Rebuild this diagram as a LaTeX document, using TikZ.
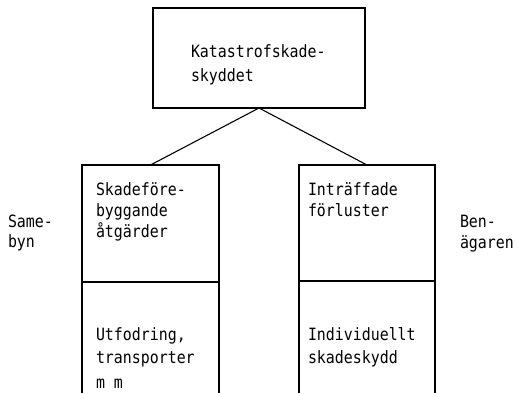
\documentclass[tikz,border=0pt]{standalone}
\usepackage{fontspec}
\newfontfamily\twfont[FakeStretch=0.88]{DejaVu Sans Mono}
\begin{document}
\begin{tikzpicture}[x=1bp,y=-1bp,
  every node/.style={inner sep=0pt,outer sep=0pt},
  txt/.style={anchor=base west,font=\twfont\fontsize{17}{21}\selectfont},
  ln/.style={line width=1.1bp,black},
  boxarea/.style={rectangle,minimum width=#1,minimum height=228bp}]
\useasboundingbox (0,0) rectangle (518,393);
% top box
\node[draw,ln,rectangle,minimum width=212bp,minimum height=100bp] (top) at (259,58) {};
\node[txt] (t1) at (191,57) {Katastrofskade-};
\node[txt] (t2) at (191,81) {skyddet};
% lower boxes (open at the bottom)
\node[boxarea=137bp] (lbox) at (150.5,279) {};
\node[boxarea=136bp] (rbox) at (367,279) {};
\draw[ln] (lbox.south west) -- (lbox.north west) -- (lbox.north east) -- (lbox.south east);
\draw[ln] (rbox.south west) -- (rbox.north west) -- (rbox.north east) -- (rbox.south east);
\draw[ln] (lbox.west |- 0,282) -- (lbox.east |- 0,282);
\draw[ln] (rbox.west |- 0,281) -- (rbox.east |- 0,281);
% connectors
\draw[ln] (top.south) -- (lbox.north);
\draw[ln] (top.south) -- (rbox.north);
% left box texts
\node[txt] (l1) at (96,195) {Skadeföre-};
\node[txt] (l2) at (96,216) {byggande};
\node[txt] (l3) at (96,237) {åtgärder};
\node[txt] (l4) at (96,340) {Utfodring,};
\node[txt] (l5) at (96,363) {transporter};
\node[txt] (l6) at (96,388) {m m};
% right box texts
\node[txt] (r1) at (308,195) {Inträffade};
\node[txt] (r2) at (308,216) {förluster};
\node[txt] (r4) at (308,340) {Individuellt};
\node[txt] (r5) at (308,363) {skadeskydd};
% side labels
\node[txt] (s1) at (8,227) {Same-};
\node[txt] (s2) at (8,247) {byn};
\node[txt] (b1) at (460,227) {Ben-};
\node[txt] (b2) at (460,248) {ägaren};
\end{tikzpicture}
\end{document}
